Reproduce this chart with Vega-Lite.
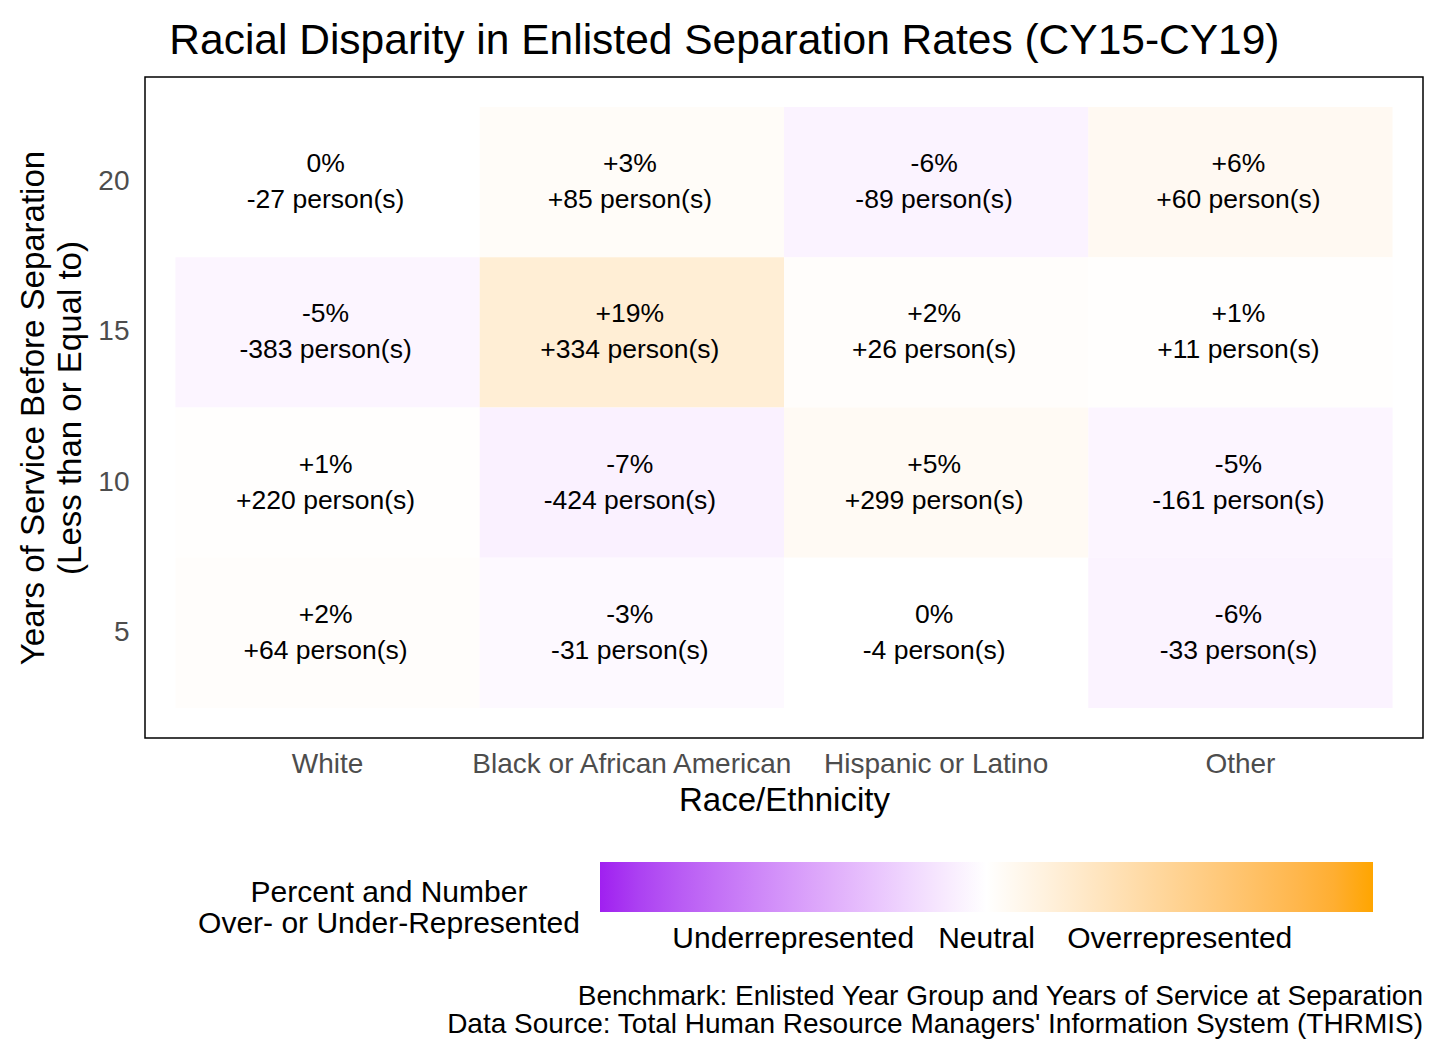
{
  "$schema": "https://vega.github.io/schema/vega-lite/v6.json",
  "background": "#FFFFFF",
  "padding": {"left": 17, "top": 19, "right": 20, "bottom": 0},
  "title": {
    "text": "Racial Disparity in Enlisted Separation Rates (CY15-CY19)",
    "fontSize": 42.5, "font": "Liberation Sans", "fontWeight": "normal", "color": "#000000",
    "anchor": "middle", "frame": "bounds", "offset": 14, "dx": 4
  },
  "vconcat": [
    {
      "width": 1278,
      "height": 661,
      "title": {
        "text": ["Benchmark: Enlisted Year Group and Years of Service at Separation", "Data Source: Total Human Resource Managers' Information System (THRMIS)"],
        "orient": "bottom", "anchor": "end", "frame": "group",
        "fontSize": 28, "lineHeight": 28, "font": "Liberation Sans", "fontWeight": "normal", "color": "#000000",
        "offset": 166
      },
      "data": {
        "values": [
          {"race": "White", "years": 20, "pct": 0, "label": "0%\n-27 person(s)"},
          {"race": "Black or African American", "years": 20, "pct": 3, "label": "+3%\n+85 person(s)"},
          {"race": "Hispanic or Latino", "years": 20, "pct": -6, "label": "-6%\n-89 person(s)"},
          {"race": "Other", "years": 20, "pct": 6, "label": "+6%\n+60 person(s)"},
          {"race": "White", "years": 15, "pct": -5, "label": "-5%\n-383 person(s)"},
          {"race": "Black or African American", "years": 15, "pct": 19, "label": "+19%\n+334 person(s)"},
          {"race": "Hispanic or Latino", "years": 15, "pct": 2, "label": "+2%\n+26 person(s)"},
          {"race": "Other", "years": 15, "pct": 1, "label": "+1%\n+11 person(s)"},
          {"race": "White", "years": 10, "pct": 1, "label": "+1%\n+220 person(s)"},
          {"race": "Black or African American", "years": 10, "pct": -7, "label": "-7%\n-424 person(s)"},
          {"race": "Hispanic or Latino", "years": 10, "pct": 5, "label": "+5%\n+299 person(s)"},
          {"race": "Other", "years": 10, "pct": -5, "label": "-5%\n-161 person(s)"},
          {"race": "White", "years": 5, "pct": 2, "label": "+2%\n+64 person(s)"},
          {"race": "Black or African American", "years": 5, "pct": -3, "label": "-3%\n-31 person(s)"},
          {"race": "Hispanic or Latino", "years": 5, "pct": 0, "label": "0%\n-4 person(s)"},
          {"race": "Other", "years": 5, "pct": -6, "label": "-6%\n-33 person(s)"}
        ]
      },
      "encoding": {
        "x": {
          "field": "race", "type": "nominal",
          "sort": ["White", "Black or African American", "Hispanic or Latino", "Other"],
          "scale": {"paddingInner": 0, "paddingOuter": 0.1},
          "title": "Race/Ethnicity",
          "axis": {"labelAngle": 0, "labelPadding": 12, "titlePadding": 6, "labelLimit": 600}
        },
        "y": {
          "field": "years", "type": "ordinal", "sort": "descending",
          "scale": {"paddingInner": 0, "paddingOuter": 0.2},
          "title": ["Years of Service Before Separation", "(Less than or Equal to)"],
          "axis": {"labelPadding": 16, "titlePadding": 10, "titleLineHeight": 37}
        }
      },
      "layer": [
        {
          "mark": {"type": "rect"},
          "encoding": {
            "color": {
              "field": "pct", "type": "quantitative",
              "scale": {"domain": [-100, 0, 100], "range": ["#A020F0", "#FFFFFF", "#FFA500"], "interpolate": "lab"},
              "legend": {
                "title": ["Percent and Number", "Over- or Under-Represented"],
                "orient": "none", "legendX": 53, "legendY": 785,
                "direction": "horizontal",
                "values": [-50, 0, 50],
                "labelExpr": "datum.value < 0 ? 'Underrepresented' : datum.value > 0 ? 'Overrepresented' : 'Neutral'",
                "gradientLength": 773, "gradientThickness": 50, "gradientStrokeWidth": 0,
                "titleOrient": "left", "titleAnchor": "middle", "titleAlign": "center", "titleBaseline": "middle",
                "titlePadding": -171, "titleLineHeight": 31, "titleFontSize": 30, "titleFontWeight": "normal", "titleColor": "#000000", "titleFont": "Liberation Sans", "titleLimit": 600,
                "labelFontSize": 30, "labelColor": "#000000", "labelFont": "Liberation Sans", "labelOffset": 12, "labelOverlap": false, "labelLimit": 600,
                "encode": {"title": {"update": {"dy": {"value": 21}}}}
              }
            }
          }
        },
        {
          "mark": {"type": "text", "lineBreak": "\n", "fontSize": 26.5, "lineHeight": 36, "font": "Liberation Sans", "color": "#000000", "dy": -18, "dx": -2},
          "encoding": {"text": {"field": "label", "type": "nominal"}}
        }
      ]
    }
  ],
  "config": {
    "view": {"stroke": "#000000", "strokeWidth": 1.5},
    "axis": {
      "grid": false, "ticks": false, "domain": false,
      "labelFont": "Liberation Sans", "labelFontSize": 28, "labelColor": "#4D4D4D",
      "titleFont": "Liberation Sans", "titleFontSize": 33, "titleColor": "#000000", "titleFontWeight": "normal"
    }
  }
}
